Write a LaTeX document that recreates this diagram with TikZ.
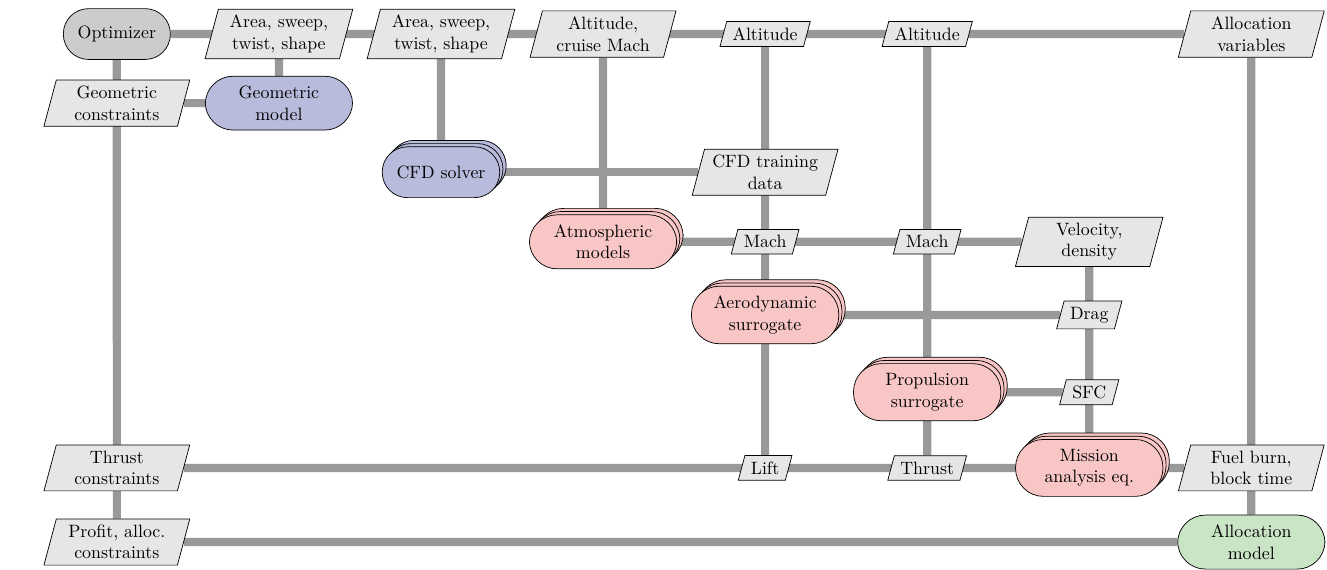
\documentclass[tikz,border=0pt]{standalone}
\usepackage{tikz}
\usetikzlibrary{
  shapes.geometric,
  shadows,
  backgrounds
}
\usepackage{xcolor}
\definecolor{optgray}{RGB}{204,204,204}
\definecolor{datagray}{RGB}{230,230,230}
\definecolor{flowgray}{RGB}{153,153,153}
\definecolor{geomblue}{RGB}{184,187,220}
\definecolor{discred}{RGB}{247,198,197}
\definecolor{allocgreen}{RGB}{202,228,198}

\begin{document}
\begin{tikzpicture}[
  every node/.style={font=\normalsize, align=center},
  flow/.style={draw=flowgray, line width=4.6pt},
  data/.style={trapezium, trapezium left angle=75, trapezium right angle=105,
    draw, fill=datagray, inner sep=3.33pt},
  datatwo/.style={data, text width=2.15cm},
  func/.style={draw, rectangle, rounded corners=14.1pt, minimum height=1cm,
    inner xsep=8pt, inner ysep=5.5pt},
  functwo/.style={func, rounded corners=15.6pt, minimum width=2.9cm},
  opt/.style={func, fill=optgray},
  stack/.style={
    general shadow={shadow xshift=3.6pt, shadow yshift=3.6pt, fill=#1, draw=black},
    general shadow={shadow xshift=1.8pt, shadow yshift=1.8pt, fill=#1, draw=black}},
]
\useasboundingbox (0,0) rectangle (26.12,-11.20);

\node[opt] (opt) at (2.30, -0.67) {Optimizer};
\node[datatwo] (area1) at (5.49, -0.67) {Area, sweep,\\twist, shape};
\node[datatwo] (area2) at (8.68, -0.67) {Area, sweep,\\twist, shape};
\node[datatwo] (altmach) at (11.87, -0.67) {Altitude,\\cruise Mach};
\node[data] (alta) at (15.06, -0.67) {Altitude};
\node[data] (altb) at (18.25, -0.67) {Altitude};
\node[datatwo] (allocvars) at (24.63, -0.67) {Allocation\\variables};

\node[datatwo] (geomcon) at (2.30, -2.03) {Geometric\\constraints};
\node[functwo, fill=geomblue] (geom) at (5.49, -2.03) {Geometric\\model};

\node[func, fill=geomblue, stack=geomblue] (cfd) at (8.68, -3.39) {CFD solver};
\node[datatwo] (cfddata) at (15.06, -3.39) {CFD training\\data};

\node[functwo, fill=discred, stack=discred] (atmos) at (11.87, -4.76) {Atmospheric\\models};
\node[data] (macha) at (15.06, -4.76) {Mach};
\node[data] (machb) at (18.25, -4.76) {Mach};
\node[datatwo] (veldens) at (21.44, -4.76) {Velocity,\\density};

\node[functwo, fill=discred, stack=discred] (aero) at (15.06, -6.20) {Aerodynamic\\surrogate};
\node[data] (drag) at (21.44, -6.20) {Drag};

\node[functwo, fill=discred, stack=discred] (prop) at (18.25, -7.72) {Propulsion\\surrogate};
\node[data] (sfc) at (21.44, -7.72) {SFC};

\node[datatwo] (thrustcon) at (2.30, -9.21) {Thrust\\constraints};
\node[data] (lift) at (15.06, -9.21) {Lift};
\node[data] (thrust) at (18.25, -9.21) {Thrust};
\node[functwo, fill=discred, stack=discred] (mission) at (21.44, -9.21) {Mission\\analysis eq.};
\node[datatwo] (fuel) at (24.63, -9.21) {Fuel burn,\\block time};

\node[datatwo] (profit) at (2.30, -10.67) {Profit, alloc.\\constraints};
\node[functwo, fill=allocgreen] (allocmodel) at (24.63, -10.67) {Allocation\\model};

\begin{scope}[on background layer]
  \draw[flow] (opt) -- (allocvars);
  \draw[flow] (opt) -- (profit);
  \draw[flow] (area1) -- (geom);
  \draw[flow] (geomcon) -- (geom);
  \draw[flow] (area2) -- (cfd);
  \draw[flow] (cfd) -- (cfddata);
  \draw[flow] (altmach) -- (atmos);
  \draw[flow] (alta) -- (lift);
  \draw[flow] (altb) -- (thrust);
  \draw[flow] (atmos) -- (veldens);
  \draw[flow] (veldens) -- (mission);
  \draw[flow] (aero) -- (drag);
  \draw[flow] (prop) -- (sfc);
  \draw[flow] (thrustcon) -- (fuel);
  \draw[flow] (allocvars) -- (allocmodel);
  \draw[flow] (profit) -- (allocmodel);
\end{scope}

\end{tikzpicture}
\end{document}
